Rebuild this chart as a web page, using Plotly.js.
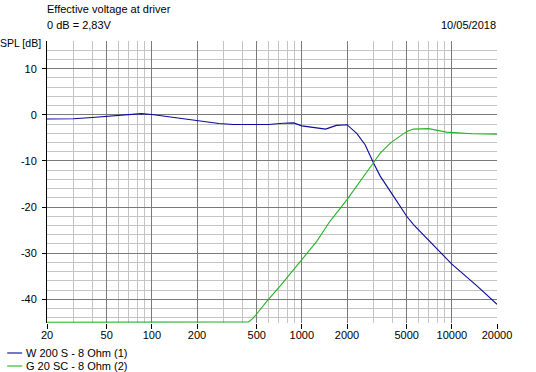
<!DOCTYPE html>
<html>
<head>
<meta charset="utf-8">
<script src="https://cdn.plot.ly/plotly-3.0.1.min.js"></script>
<style>
html,body{margin:0;padding:0;background:#fff;}
#chart{width:536px;height:372px;}
</style>
</head>
<body>
<div id="chart"></div>
<script>
// ---- data ----
var seriesNames = ["W 200 S - 8 Ohm (1)", "G 20 SC - 8 Ohm (2)"];
var seriesColors = ["#0a0a9c", "#22b422"];

var freqW = [20, 30, 40, 55, 70, 85, 100, 140, 200, 280, 350, 450, 600, 750, 880, 1000, 1200, 1440, 1700, 2000, 2330, 2640, 3000, 3330, 4000, 4530, 5000, 5550, 7200, 10000, 14700, 20000];
var splW  = [-0.9, -0.85, -0.6, -0.2, 0.1, 0.25, 0.05, -0.6, -1.35, -1.9, -2.1, -2.15, -2.1, -1.85, -1.75, -2.4, -2.8, -3.1, -2.3, -2.15, -4.1, -6.5, -10.4, -13.3, -17.2, -19.8, -22.0, -23.8, -27.7, -32.4, -37.1, -41.1];

var freqG = [20, 400, 441, 470, 500, 585, 718, 1000, 1260, 1540, 2000, 3000, 3330, 3900, 4530, 5010, 5550, 7000, 9200, 13700, 20000];
var splG  = [-45, -45, -44.9, -44.2, -43.2, -40.4, -37.1, -31.4, -27.4, -23.1, -18.4, -10.4, -8.3, -6.1, -4.7, -3.6, -3.1, -3.0, -3.75, -4.1, -4.2];

var xTickVals = [20, 50, 100, 200, 500, 1000, 2000, 5000, 10000, 20000];
var xTickText = ["20", "50", "100", "200", "500", "1000", "2000", "5000", "10000", "20000"];
var xMinorVals = [30, 40, 60, 70, 80, 90, 300, 400, 600, 700, 800, 900, 3000, 4000, 6000, 7000, 8000, 9000];
var yTickVals = [10, 0, -10, -20, -30, -40];
var yTickText = ["10", "0", "-10", "-20", "-30", "-40"];

var titleLine1 = "Effective voltage at driver";
var titleLine2 = "0 dB = 2,83V";
var dateText = "10/05/2018";
var yLabel = "SPL [dB]";

// ---- layout geometry ----
var W = 536, H = 372;
var mL = 46.8, mR = 39.2, mT = 41, mB = 49;
var pw = W - mL - mR, ph = H - mT - mB;
function px(x){ return (x - mL) / pw; }
function py(y){ return (H - mB - y) / ph; }

var font = {family: "Liberation Sans, Arial, sans-serif", size: 11, color: "#000"};
var smallFont = {family: "Liberation Sans, Arial, sans-serif", size: 10.5, color: "#000"};

var traces = [
  {x: freqW, y: splW, type: "scatter", mode: "lines", name: seriesNames[0],
   line: {color: seriesColors[0], width: 1.1}, showlegend: false},
  {x: freqG, y: splG, type: "scatter", mode: "lines", name: seriesNames[1],
   line: {color: seriesColors[1], width: 1.1}, showlegend: false},
  // invisible helper on the overlay axis so its tick marks render
  {x: [20, 20000], y: [null, null], xaxis: "x2", type: "scatter", mode: "lines", showlegend: false, hoverinfo: "skip"}
];

var annotations = [
  {text: titleLine1, xref: "paper", yref: "paper", x: px(45), y: py(9), xanchor: "left", yanchor: "middle", showarrow: false, font: font},
  {text: titleLine2, xref: "paper", yref: "paper", x: px(45), y: py(25), xanchor: "left", yanchor: "middle", showarrow: false, font: font},
  {text: dateText, xref: "paper", yref: "paper", x: px(498), y: py(25), xanchor: "right", yanchor: "middle", showarrow: false, font: font},
  {text: yLabel, xref: "paper", yref: "paper", x: px(-2), y: py(43), xanchor: "left", yanchor: "middle", showarrow: false, font: smallFont}
];
var shapes = [];
var legendY = [353, 366];
for (var i = 0; i < seriesNames.length; i++) {
  annotations.push({text: seriesNames[i], xref: "paper", yref: "paper", x: px(24), y: py(legendY[i]),
    xanchor: "left", yanchor: "middle", showarrow: false, font: font});
  shapes.push({type: "line", xref: "paper", yref: "paper", x0: px(7), x1: px(22), y0: py(legendY[i]), y1: py(legendY[i]),
    line: {color: seriesColors[i], width: 1.1}});
}

var xRange = [Math.log10(20), Math.log10(20000)];

var layout = {
  width: W, height: H,
  margin: {l: mL, r: mR, t: mT, b: mB, pad: 0},
  paper_bgcolor: "#fff", plot_bgcolor: "#fff",
  font: font,
  showlegend: false,
  xaxis: {
    type: "log",
    range: xRange,
    tickmode: "array", tickvals: xTickVals, ticktext: xTickText,
    showgrid: true, gridcolor: "#7a7a7a", gridwidth: 1,
    ticks: "", ticklabelstandoff: 4,
    showline: false, zeroline: false,
    tickfont: font,
    minor: {tickmode: "array", tickvals: xMinorVals, showgrid: true, gridcolor: "#c4c4c4", gridwidth: 1, ticks: ""}
  },
  xaxis2: {
    type: "log",
    overlaying: "x", side: "bottom", anchor: "y",
    range: xRange,
    tickmode: "array", tickvals: xTickVals,
    showticklabels: false, showgrid: false, showline: false, zeroline: false,
    ticks: "outside", ticklen: 5, tickcolor: "#000", tickwidth: 1
  },
  yaxis: {
    range: [-45.15, 16],
    tickmode: "array", tickvals: yTickVals, ticktext: yTickText,
    showgrid: true, gridcolor: "#7a7a7a", gridwidth: 1,
    ticks: "outside", ticklen: 4, tickcolor: "#000", tickwidth: 1,
    ticklabelstandoff: 3,
    showline: true, linecolor: "#000", linewidth: 1, mirror: false,
    zeroline: false,
    tickfont: font,
    minor: {dtick: 2, tick0: 0, showgrid: true, gridcolor: "#c4c4c4", gridwidth: 1, ticks: ""}
  },
  annotations: annotations,
  shapes: shapes
};

Plotly.newPlot("chart", traces, layout, {staticPlot: true, displayModeBar: false});
</script>
</body>
</html>
